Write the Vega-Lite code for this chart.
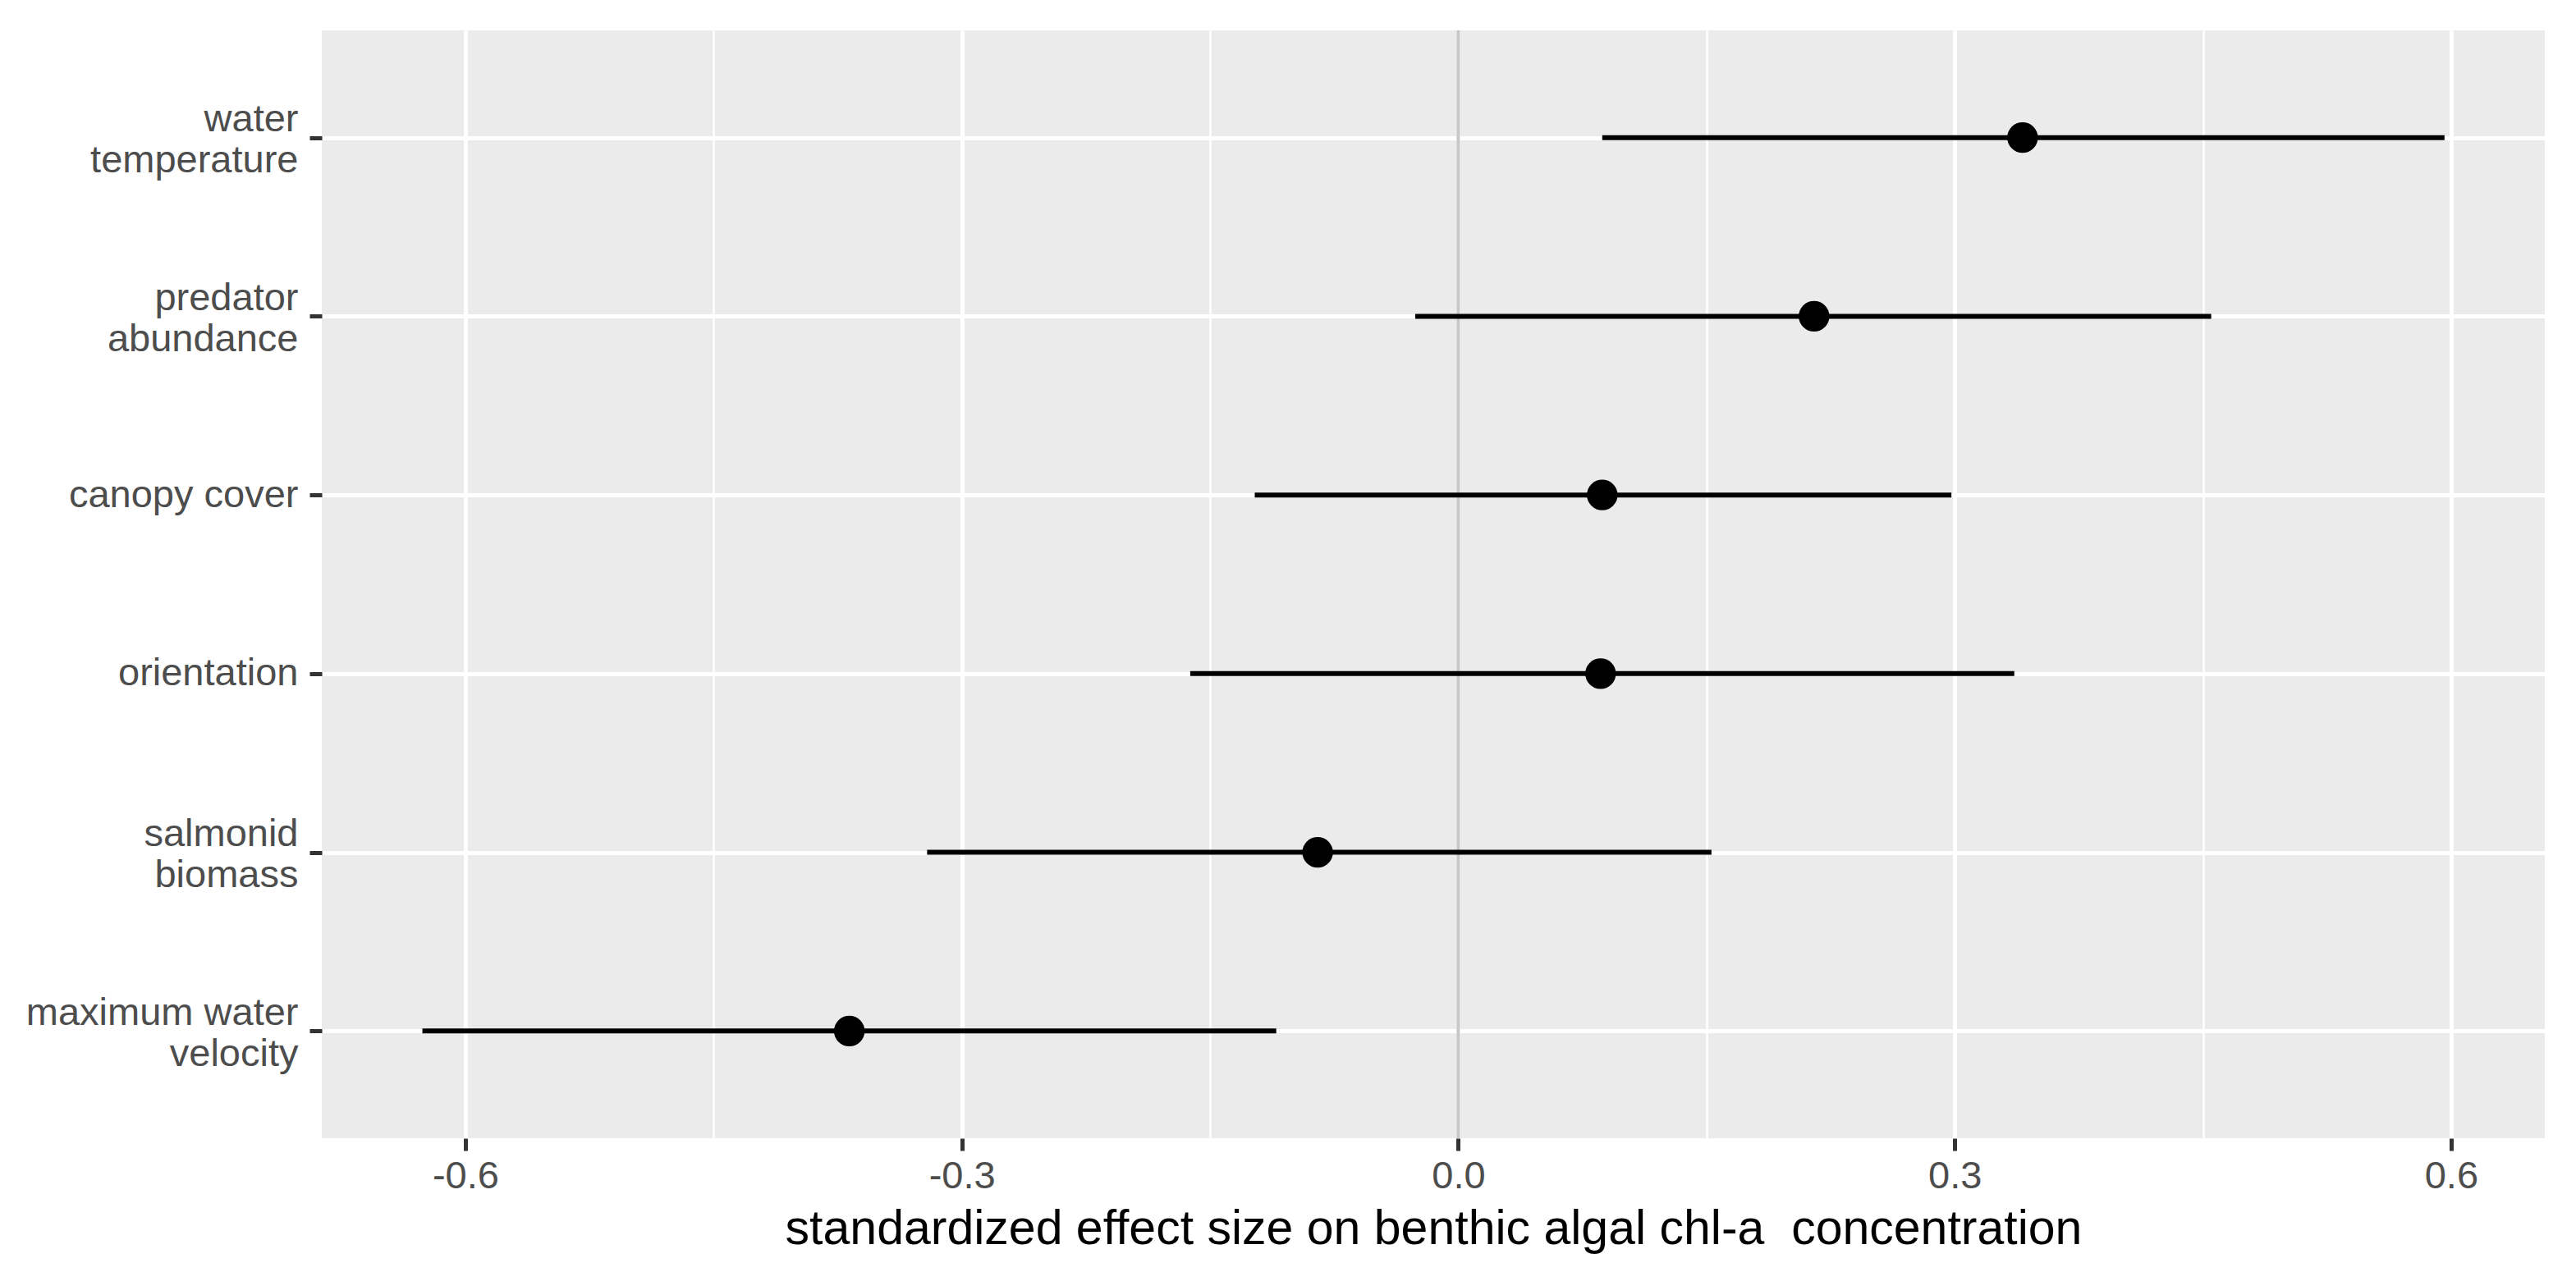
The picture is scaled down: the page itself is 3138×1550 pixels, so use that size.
{
  "$schema": "https://vega.github.io/schema/vega-lite/v6.json",
  "autosize": "none",
  "width": 2708,
  "height": 1350,
  "padding": {"left": 392, "top": 37, "right": 38, "bottom": 163},
  "background": "white",
  "config": {
    "view": {"fill": "#EBEBEB", "stroke": null},
    "font": "Liberation Sans"
  },
  "data": {
    "values": [
      {"predictor": "water\ntemperature", "estimate": 0.341, "lower": 0.087, "upper": 0.596},
      {"predictor": "predator\nabundance", "estimate": 0.215, "lower": -0.026, "upper": 0.455},
      {"predictor": "canopy cover", "estimate": 0.087, "lower": -0.123, "upper": 0.298},
      {"predictor": "orientation", "estimate": 0.086, "lower": -0.162, "upper": 0.336},
      {"predictor": "salmonid\nbiomass", "estimate": -0.085, "lower": -0.321, "upper": 0.153},
      {"predictor": "maximum water\nvelocity", "estimate": -0.368, "lower": -0.626, "upper": -0.110}
    ]
  },
  "encoding": {
    "y": {
      "field": "predictor",
      "type": "nominal",
      "sort": null,
      "scale": {"type": "point", "padding": 0.6},
      "axis": {
        "title": null,
        "domain": false,
        "labelExpr": "split(datum.label, '\\n')",
        "labelFont": "Liberation Sans",
        "labelFontSize": 47,
        "labelColor": "#4D4D4D",
        "labelLineHeight": 50,
        "labelPadding": 14,
        "labelLimit": 0,
        "labelOffset": {"condition": {"test": "indexof(datum.value, '\\n') >= 0", "value": -22}, "value": 0},
        "tickColor": "#333333",
        "tickSize": 15,
        "tickWidth": 5,
        "grid": true,
        "gridColor": "#FFFFFF",
        "gridWidth": 5
      }
    }
  },
  "layer": [
    {
      "data": {"values": [{"zero": 0}]},
      "mark": {"type": "rule", "color": "#C6C6C6", "strokeWidth": 4},
      "encoding": {
        "y": null,
        "x": {
          "field": "zero",
          "type": "quantitative",
          "scale": {"domain": [-0.6868, 0.6566], "nice": false, "zero": false},
          "axis": {
            "title": "standardized effect size on benthic algal chl-a\u00a0 concentration",
            "titleFont": "Liberation Sans",
            "titleFontSize": 59,
            "titleFontWeight": "normal",
            "titleColor": "#000000",
            "titlePadding": 12,
            "domain": false,
            "values": [-0.6, -0.45, -0.3, -0.15, 0, 0.15, 0.3, 0.45, 0.6],
            "labelExpr": "abs(datum.value*10/3 - round(datum.value*10/3)) < 0.01 ? (datum.value < -0.001 ? '-' : '') + format(abs(datum.value), '.1f') : ''",
            "labelFont": "Liberation Sans",
            "labelFontSize": 47,
            "labelColor": "#4D4D4D",
            "labelPadding": 8,
            "labelOverlap": false,
            "labelFlush": false,
            "tickColor": "#333333",
            "tickSize": 15,
            "tickWidth": 5,
            "tickOpacity": {"condition": {"test": "abs(datum.value*10/3 - round(datum.value*10/3)) < 0.01", "value": 1}, "value": 0},
            "grid": true,
            "gridColor": "#FFFFFF",
            "gridWidth": {"condition": {"test": "abs(datum.value*10/3 - round(datum.value*10/3)) < 0.01", "value": 5}, "value": 2.5}
          }
        }
      }
    },
    {
      "mark": {"type": "rule", "color": "#000000", "strokeWidth": 6, "strokeCap": "butt"},
      "encoding": {
        "x": {"field": "lower", "type": "quantitative"},
        "x2": {"field": "upper"}
      }
    },
    {
      "mark": {"type": "circle", "color": "#000000", "opacity": 1, "size": 1400},
      "encoding": {
        "x": {"field": "estimate", "type": "quantitative"}
      }
    }
  ]
}
